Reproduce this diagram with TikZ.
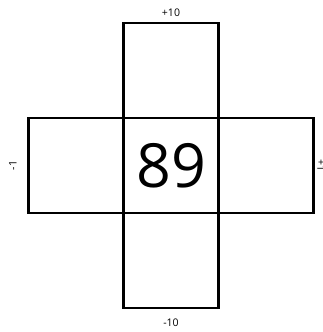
\documentclass[tikz,border=0pt]{standalone}
\usepackage{fontspec}
\setmainfont{Open Sans}
\usetikzlibrary{positioning}

\begin{document}
\begin{tikzpicture}[x=0.03cm, y=-0.03cm]
    \tikzstyle{cell} += [draw=black, line width=1.8pt, minimum size=2.85cm, inner sep=0pt, outer sep=0pt];
    \tikzstyle{lbl} += [font=\fontsize{9}{10}\selectfont, inner sep=1pt];
    \useasboundingbox (0,0) rectangle (322,332);
    \node (c) at (171, 165.5) [cell, font=\fontsize{52}{56}\selectfont]{89};
    \node (up)    [cell, above=0pt of c, label={[lbl, label distance=4pt]above:+10}]{};
    \node (down)  [cell, below=0pt of c, label={[lbl, label distance=8pt]below:-10}]{};
    \node (left)  [cell, left=0pt of c]{};
    \node (right) [cell, right=0pt of c]{};
    \node (minus1) at ([xshift=-9pt]left.west)  [lbl, rotate=90, anchor=south]{-1};
    \node (plus1)  at ([xshift=2pt]right.east)  [lbl, rotate=-90, anchor=south]{+1};
\end{tikzpicture}
\end{document}
